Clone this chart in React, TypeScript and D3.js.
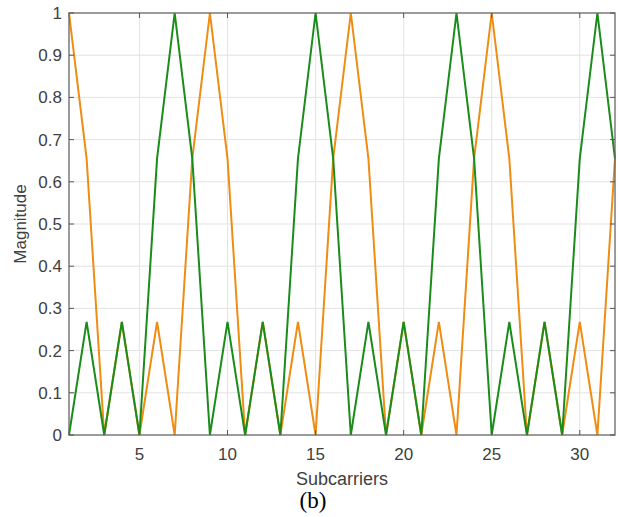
import React from "react";
import * as d3 from "d3";

const subcarriers = d3.range(1, 33);
const orangeValues = [1, 0.655, 0, 0.268, 0, 0.268, 0, 0.655, 1, 0.655, 0, 0.268, 0, 0.268, 0, 0.655, 1, 0.655, 0, 0.268, 0, 0.268, 0, 0.655, 1, 0.655, 0, 0.268, 0, 0.268, 0, 0.655];
const greenValues = [0, 0.268, 0, 0.268, 0, 0.655, 1, 0.655, 0, 0.268, 0, 0.268, 0, 0.655, 1, 0.655, 0, 0.268, 0, 0.268, 0, 0.655, 1, 0.655, 0, 0.268, 0, 0.268, 0, 0.655, 1, 0.655];
const xTicks = [5, 10, 15, 20, 25, 30];
const yTicks = [0, 0.1, 0.2, 0.3, 0.4, 0.5, 0.6, 0.7, 0.8, 0.9, 1];

const W = 618, H = 517;
const L = 69, T = 13, R = 615, B = 435;

export default function App() {
  const x = d3.scaleLinear().domain([1, 32]).range([L, R]);
  const y = d3.scaleLinear().domain([0, 1]).range([B, T]);
  const line = d3.line<number>().x((_, i) => x(subcarriers[i])).y((d) => y(d));
  const font = "'Liberation Sans', Arial, sans-serif";
  return (
    <svg width={W} height={H} style={{ position: "absolute", left: 0, top: 0, background: "#fff" }}>
      <rect x={0} y={0} width={W} height={H} fill="#fff" />
      {xTicks.map((t) => (
        <line key={"gx" + t} x1={x(t)} x2={x(t)} y1={T} y2={B} stroke="#e3e3e3" strokeWidth={1} />
      ))}
      {yTicks.slice(1, -1).map((t) => (
        <line key={"gy" + t} x1={L} x2={R} y1={y(t)} y2={y(t)} stroke="#e3e3e3" strokeWidth={1} />
      ))}
      <path d={line(orangeValues) || ""} fill="none" stroke="#ef8c12" strokeWidth={2} strokeLinejoin="miter" />
      <path d={line(greenValues) || ""} fill="none" stroke="#1a8c1a" strokeWidth={2} strokeLinejoin="miter" />
      <rect x={L} y={T} width={R - L} height={B - T} fill="none" stroke="#666" strokeWidth={1.3} />
      {xTicks.map((t) => (
        <g key={"tx" + t}>
          <line x1={x(t)} x2={x(t)} y1={B} y2={B - 5} stroke="#555" strokeWidth={1} />
          <line x1={x(t)} x2={x(t)} y1={T} y2={T + 5} stroke="#555" strokeWidth={1} />
          <text x={x(t)} y={B + 25} textAnchor="middle" fontFamily={font} fontSize={17} fill="#404040">{t}</text>
        </g>
      ))}
      {yTicks.map((t) => (
        <g key={"ty" + t}>
          <line x1={L} x2={L + 5} y1={y(t)} y2={y(t)} stroke="#555" strokeWidth={1} />
          <line x1={R} x2={R - 5} y1={y(t)} y2={y(t)} stroke="#555" strokeWidth={1} />
          <text x={L - 7} y={y(t) + 6} textAnchor="end" fontFamily={font} fontSize={17} fill="#404040">{t}</text>
        </g>
      ))}
      <text x={x(16.5)} y={485} textAnchor="middle" fontFamily={font} fontSize={18} fill="#404040">Subcarriers</text>
      <text transform={`translate(26, ${(T + B) / 2}) rotate(-90)`} textAnchor="middle" fontFamily={font} fontSize={17} fill="#404040">Magnitude</text>
      <text x={313} y={508} textAnchor="middle" fontFamily="'Liberation Serif', 'Times New Roman', serif" fontSize={23} fill="#000">(b)</text>
    </svg>
  );
}
